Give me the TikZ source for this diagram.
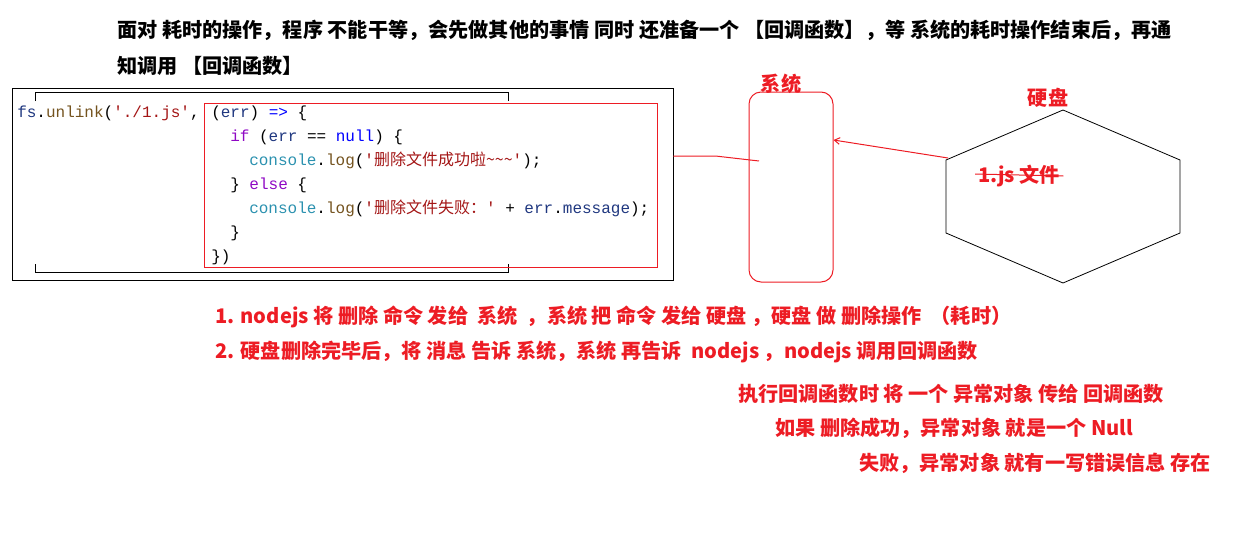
\documentclass[tikz,border=0pt]{standalone}
\usepackage{fontspec}
\setmonofont{Liberation Mono}
\newfontfamily\cjk{Noto Sans CJK SC}
\usepackage{xcolor}
\usetikzlibrary{arrows.meta, positioning, fit, calc}

\definecolor{hotred}{RGB}{237,28,36}
\definecolor{jsvar}{HTML}{1F377F}
\definecolor{jsfun}{HTML}{74531F}
\definecolor{jsstr}{HTML}{A31515}
\definecolor{jskey}{HTML}{8F08C4}
\definecolor{jsblue}{HTML}{0000FF}
\definecolor{jstype}{HTML}{2B91AF}
\newcommand{\cvar}[1]{\textcolor{jsvar}{#1}}
\newcommand{\cfun}[1]{\textcolor{jsfun}{#1}}
\newcommand{\cstr}[1]{\textcolor{jsstr}{#1}}
\newcommand{\ckey}[1]{\textcolor{jskey}{#1}}
\newcommand{\cblue}[1]{\textcolor{jsblue}{#1}}
\newcommand{\ctype}[1]{\textcolor{jstype}{#1}}
\newcommand{\tld}{\textasciitilde}

\begin{document}
\begin{tikzpicture}[
		x=0.75pt, y=-0.75pt,
		headline/.style={anchor=west,inner sep=0pt,font=\cjk\bfseries\fontsize{15.1}{18}\selectfont},
		note/.style={headline,text=hotred},
		codeline/.style={anchor=base west,inner sep=0pt,font=\ttfamily\fontsize{12}{18}\selectfont},
		box/.style={inner sep=0pt},
		link/.style={draw=hotred,line width=0.75pt}
	]
		\useasboundingbox (0,0) rectangle (1252,546);

		% heading
		\node (head1) [headline] at (117,30) {面对 耗时的操作，程序 不能干等，会先做其他的事情 同时 还准备一个 【回调函数】，等 系统的耗时操作结束后，再通};
		\node (head2) [headline] at (117,66) {知调用 【回调函数】};

		% code
		\node (frame) [box,fit={(12,88) (673,280)},draw,line width=0.6pt] {};
		\draw [line width=0.6pt] (35,101) -- (35,92) -- (508,92) -- (508,101);
		\draw [line width=0.6pt] (35,264) -- (35,272) -- (508,272) -- (508,264);
		\node (cbk) [box,fit={(204,103) (657,267)},draw=hotred,line width=0.75pt] {};
		\node (l0) [codeline] at (17,117) {\cvar{fs}.\cfun{unlink}(\cstr{'./1.js'},};
		\node (l1) [codeline] at (211,117) {(\cvar{err}) \cblue{=>} \{};
		\node (l2) [codeline] at (230,141) {\ckey{if} (\cvar{err} == \cblue{null}) \{};
		\node (l3) [codeline] at (249,165) {\ctype{console}.\cfun{log}(\cstr{'{\cjk 删除文件成功啦\tld\tld\tld}'});};
		\node (l4) [codeline] at (230,189) {\} \ckey{else} \{};
		\node (l5) [codeline] at (249,213) {\ctype{console}.\cfun{log}(\cstr{'{\cjk 删除文件失败：}'} + \cvar{err}.\cvar{message});};
		\node (l6) [codeline] at (230,237) {\}};
		\node (l7) [codeline] at (211,261) {\})};

		% system
		\node (sys) [box,fit={(749,92) (833,282)},draw=hotred,line width=0.75pt,rounded corners=9pt] {};
		\node (syslabel) [note,anchor=center] at (781,84) {系统};

		% disk
		\coordinate (d-n) at (1063,110);
		\coordinate (d-ne) at (1180,160);
		\coordinate (d-se) at (1180,233);
		\coordinate (d-s) at (1063,283);
		\coordinate (d-sw) at (946,233);
		\coordinate (d-nw) at (946,160);
		\draw [line width=0.6pt] (d-n) -- (d-ne) -- (d-se) -- (d-s) -- (d-sw) -- (d-nw) -- cycle;
		\node (disklabel) [note,anchor=center] at (1048,98) {硬盘};
		\node (file) [note] at (978,176) {1.js 文件};
		\draw [link] ($(file.west)+(-3,-2)$) -- ($(file.east)+(3,0)$);

		% links
		\coordinate (lvl1) at (0,156);
		\coordinate (lvl2) at (0,140);
		\coordinate (sysin) at (759,161);
		\draw [link] (frame.east |- lvl1) -- ++(42,0) -- (sysin);
		\draw [link,-{Straight Barb[length=4pt,width=5pt]}] (d-nw) ++(2,-2) -- (sys.east |- lvl2);

		% notes
		\node (n1) [note] at (215,317) {1. nodejs 将 删除 命令 发给 \ 系统 \ ，系统 把 命令 发给 硬盘 ，硬盘 做 删除操作 \ （耗时）};
		\node (n2) [note] at (215,352) {2. 硬盘删除完毕后，将 消息 告诉 系统，系统 再告诉 \ nodejs ，nodejs 调用回调函数};
		\node (n3) [note] at (738,394) {执行回调函数时 将 一个 异常对象 传给 回调函数};
		\node (n4) [note] at (775,428) {如果 删除成功，异常对象 就是一个 Null};
		\node (n5) [note] at (859,463) {失败，异常对象 就有一写错误信息 存在};
	\end{tikzpicture}
\end{document}
